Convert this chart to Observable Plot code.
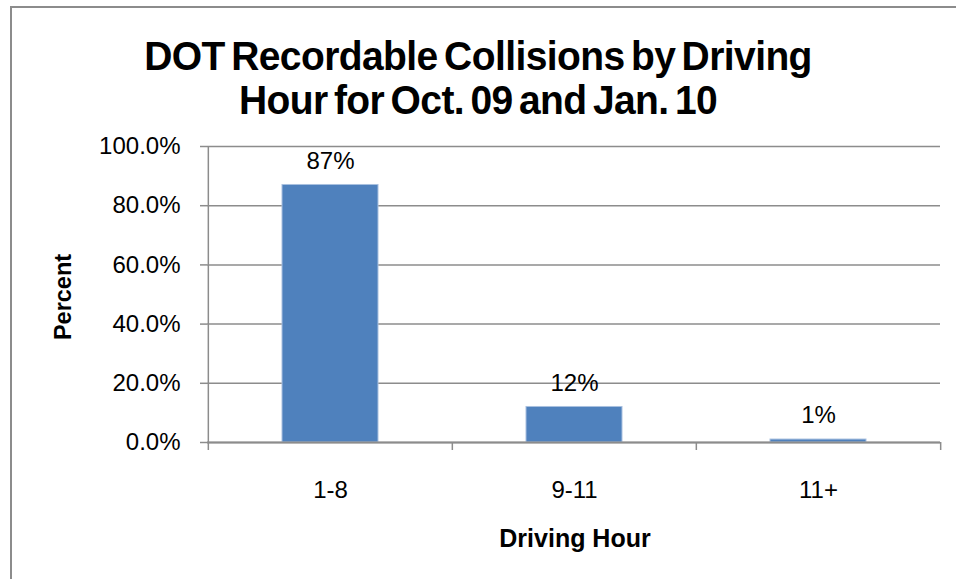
<!DOCTYPE html>
<html>
<head>
<meta charset="utf-8">
<script src="https://cdn.jsdelivr.net/npm/d3@7"></script>
<script src="https://cdn.jsdelivr.net/npm/@observablehq/plot@0.6"></script>
<style>
  html, body { margin: 0; padding: 0; background: #fff; }
  #wrap { position: relative; width: 956px; height: 579px; overflow: hidden; font-family: "Liberation Sans", Arial, sans-serif; }
  #frame { position: absolute; left: 10px; top: 6px; width: 960px; height: 600px; border-left: 2px solid #8c8c8c; border-top: 2px solid #8c8c8c; box-sizing: border-box; }
  #title { position: absolute; left: 0; width: 956px; top: 34px; text-align: center; font-weight: bold; font-size: 40px; line-height: 44px; letter-spacing: -0.6px; word-spacing: -4px; color: #000; transform: scaleX(0.975); transform-origin: 480px 0; }
  #ylab { position: absolute; left: 63px; top: 297px; transform: translate(-50%, -50%) rotate(-90deg); font-weight: bold; font-size: 23.5px; white-space: nowrap; }
  #xlab { position: absolute; left: 575px; top: 538px; transform: translate(-50%, -50%); font-weight: bold; font-size: 25px; white-space: nowrap; }
  #chart { position: absolute; left: 0; top: 0; }
</style>
</head>
<body>
<div id="wrap">
  <div id="frame"></div>
  <div id="title">DOT Recordable Collisions by Driving<br>Hour for Oct. 09 and Jan. 10</div>
  <div id="ylab">Percent</div>
  <div id="xlab">Driving Hour</div>
  <div id="chart"></div>
</div>
<script>
const categories = ["1-8", "9-11", "11+"];
const percents = [0.87, 0.12, 0.01];
const valueLabels = ["87%", "12%", "1%"];
const yTicks = [0, 0.2, 0.4, 0.6, 0.8, 1.0];

const data = categories.map((c, i) => ({cat: c, v: percents[i], label: valueLabels[i]}));

const W = 956, H = 579;
const mL = 207, mR = 16, mT = 146, mB = 137;
const step = (W - mL - mR) / categories.length;
const gray = "#8c8c8c";

const chart = Plot.plot({
  width: W,
  height: H,
  marginLeft: mL,
  marginRight: mR,
  marginTop: mT,
  marginBottom: mB,
  style: {fontFamily: "'Liberation Sans', Arial, sans-serif", fontSize: "24px", color: "#000", background: "transparent"},
  x: {domain: categories, paddingInner: 0.607, paddingOuter: 0.3035, label: null},
  y: {domain: [0, 1], label: null},
  marks: [
    Plot.ruleY(yTicks, {stroke: gray, strokeWidth: 1.5, strokeOpacity: 1}),
    Plot.barY(data, {x: "cat", y: "v", fill: "#4f81bd", stroke: "#a9c0df", strokeWidth: 1}),
    Plot.text(data, {x: "cat", y: "v", text: "label", dy: -24, fontSize: 24, fill: "#000"}),
    Plot.axisY({ticks: yTicks, tickFormat: d3.format(".1%"), tickSize: 7, tickPadding: 20, stroke: gray, strokeWidth: 1.5, fontSize: 24, label: null}),
    Plot.ruleX([categories[0]], {x: d => d, y1: 0, y2: 1, dx: -step / 2, stroke: gray, strokeWidth: 1.5}),
    Plot.ruleY([0], {stroke: gray, strokeWidth: 2}),
    Plot.ruleX(categories, {x: d => d, y1: 0, y2: -0.027, dx: -step / 2, stroke: gray, strokeWidth: 1.5, clip: false}),
    Plot.ruleX([categories[categories.length - 1]], {x: d => d, y1: 0, y2: -0.027, dx: step / 2, stroke: gray, strokeWidth: 1.5}),
    Plot.axisX({tickSize: 0, tickPadding: 38, fontSize: 24, label: null})
  ]
});
document.getElementById("chart").appendChild(chart);
</script>
</body>
</html>
